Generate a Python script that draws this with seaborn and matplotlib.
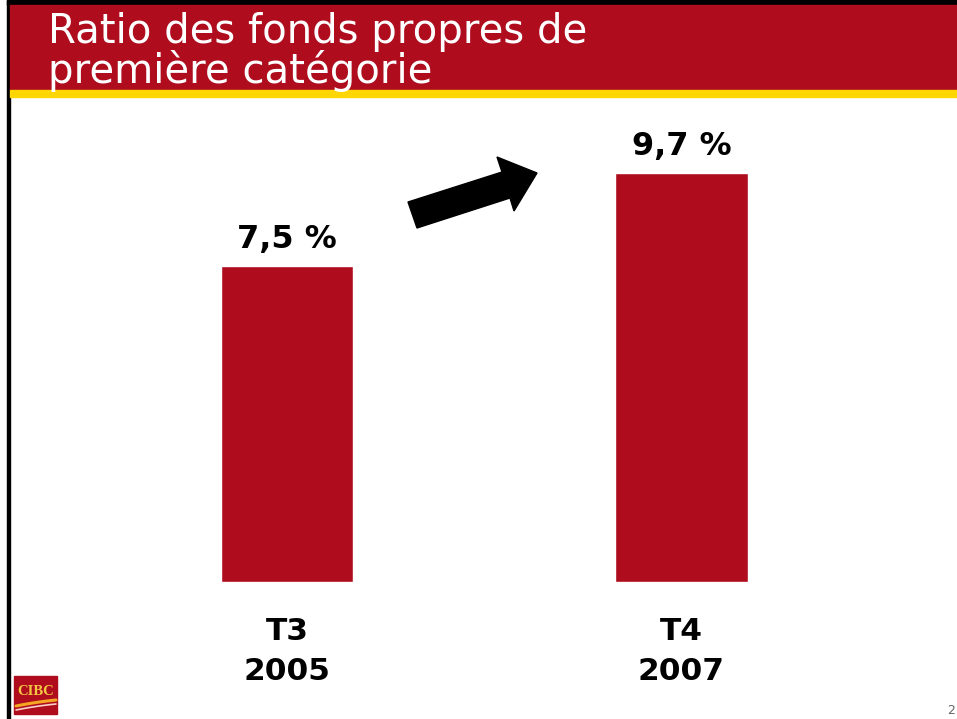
import numpy as np
import matplotlib
matplotlib.use("Agg")
import matplotlib.pyplot as plt
import seaborn as sns
from matplotlib.patches import Rectangle, Polygon

# Data
categories = ["T3\n2005", "T4\n2007"]
ratios = [7.5, 9.7]
value_labels = ["7,5 %", "9,7 %"]
title_lines = ["Ratio des fonds propres de", "première catégorie"]

W, H = 957, 719
red = "#AF0C1E"
yellow = "#FFD600"

sns.set_style("white")
plt.rcParams['font.family'] = ['DejaVu Sans']
plt.rcParams['text.color'] = 'black'
plt.rcParams['xtick.color'] = 'black'

fig = plt.figure(figsize=(W / 100, H / 100), dpi=100)


def fx(px):
    return px / W


def fy(py):
    return 1 - py / H


# slide frame: black top / left edge, red header, yellow rule
fig.patches.append(Rectangle((fx(7), fy(719)), fx(3), 1, transform=fig.transFigure, color="black", zorder=0))
fig.patches.append(Rectangle((fx(7), fy(5)), 1, 5 / H, transform=fig.transFigure, color="black", zorder=0))
fig.patches.append(Rectangle((fx(10), fy(90)), 1, 85 / H, transform=fig.transFigure, color=red, zorder=0))
fig.patches.append(Rectangle((fx(10), fy(97)), 1, 7 / H, transform=fig.transFigure, color=yellow, zorder=0))

fig.text(fx(48), fy(43), title_lines[0], color="white", fontsize=29, va="baseline", ha="left")
fig.text(fx(48), fy(83), title_lines[1], color="white", fontsize=29, va="baseline", ha="left")

# bars
ax = fig.add_axes([fx(89.75), (H - 582) / H, 789 / W, 421.3 / H])
ax.patch.set_alpha(0)
sns.barplot(x=categories, y=ratios, color=red, saturation=1, width=0.335, ax=ax)
ax.set_xlim(-0.5, 1.5)
ax.set_ylim(0, 10)
ax.bar_label(ax.containers[0], labels=value_labels, padding=8, fontsize=23, fontweight="bold", color="black")
ax.set_yticks([])
ax.tick_params(axis="x", length=0, pad=25, colors="black")
for t in ax.get_xticklabels():
    t.set_fontsize(22.5)
    t.set_fontweight("bold")
    t.set_linespacing(1.5)
ax.set_xlabel("")
ax.set_ylabel("")
sns.despine(ax=ax, left=True, bottom=True)

# black "up" arrow between the bars
arrow_px = [(408, 202), (502, 172), (497, 157), (537, 173), (514, 211), (510, 198), (417, 228)]
fig.patches.append(Polygon([(fx(x), fy(y)) for x, y in arrow_px], closed=True,
                           transform=fig.transFigure, color="black", zorder=3))

# CIBC logo
fig.patches.append(Rectangle((fx(14), fy(714)), fx(43), 38 / H, transform=fig.transFigure, color=red, zorder=2))
fig.text(fx(35.5), fy(695), "CIBC", family="Liberation Serif", fontweight="bold", fontsize=10.5,
         color="#F5C842", ha="center", va="baseline", zorder=3)
xs = np.linspace(16, 56, 30)
fig.lines.append(plt.Line2D(fx(xs), fy(706 - 8 * (xs - 16) / 40 + 2 * ((xs - 16) / 40) ** 2),
                            transform=fig.transFigure, color="#F5A623", lw=2.2, zorder=3))
fig.lines.append(plt.Line2D(fx(xs), fy(710 - 8 * (xs - 16) / 40 + 2 * ((xs - 16) / 40) ** 2),
                            transform=fig.transFigure, color="#F8D0C8", lw=1.2, zorder=3))

fig.text(fx(955), fy(717), "2", color="#666666", fontsize=9, ha="right", va="bottom")

fig.savefig("out.png", dpi=100)
